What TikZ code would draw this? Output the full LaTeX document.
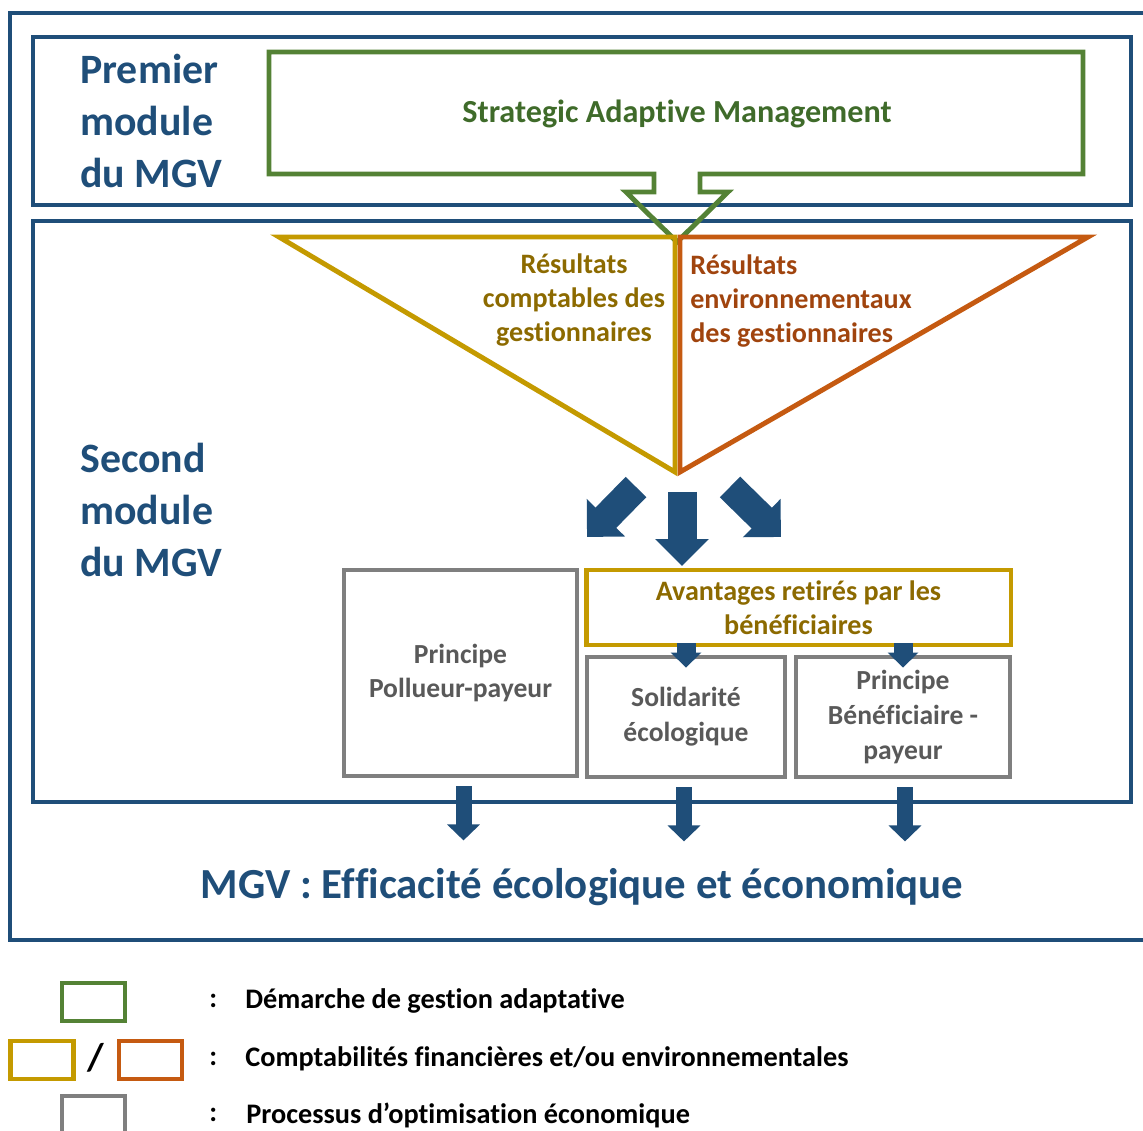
\documentclass[tikz,border=0pt]{standalone}
\usepackage{fontspec}
\setmainfont{Carlito}[RawFeature=-liga]
\usepackage{tikz}
\usetikzlibrary{arrows.meta,positioning}
\definecolor{mgvblue}{HTML}{1F4E79}
\definecolor{samgreen}{HTML}{548235}
\definecolor{samtext}{HTML}{3F6B2A}
\definecolor{compta}{HTML}{C49A00}
\definecolor{comptatext}{HTML}{8C6A00}
\definecolor{envir}{HTML}{C55A11}
\definecolor{envirtext}{HTML}{A0440E}
\definecolor{optigray}{HTML}{7F7F7F}
\definecolor{optitext}{HTML}{595959}
\tikzstyle{module} = [draw=mgvblue, line width=2.8pt]
\tikzstyle{modtext} = [inner sep=0pt, anchor=west, align=left, text=mgvblue,
    font=\fontsize{23.8}{29.5}\selectfont\bfseries]
\tikzstyle{graybox} = [rectangle, draw=optigray, line width=2.8pt, text=optitext,
    align=center, font=\fontsize{15.7}{19.8}\selectfont\bfseries]
\tikzstyle{legbox} = [rectangle, line width=2.8pt, minimum width=1.26cm, minimum height=0.76cm]
\tikzstyle{legtext} = [inner sep=0pt, anchor=west, font=\fontsize{16.1}{19}\selectfont\bfseries]
\tikzstyle{bigarrow} = [draw=mgvblue, line width=0.58cm, -{Triangle[length=0.54cm,width=1.04cm]}]
\tikzstyle{smallarrow} = [draw=mgvblue, line width=0.38cm, -{Triangle[length=0.3cm,width=0.6cm]}]
\tikzstyle{downarrow} = [draw=mgvblue, line width=0.32cm, -{Triangle[length=0.32cm,width=0.64cm]}]

\begin{document}
\begin{tikzpicture}[x=0.02cm, y=-0.02cm, line join=miter]
    \useasboundingbox (0,0) rectangle (1143,1131);
    % Frames
    \draw [draw=mgvblue, line width=2.3pt] (10,13) rectangle (1170,940);
    \draw [module] (33,37) rectangle (1131,205);
    \draw [module] (33,221) rectangle (1131,802);
    \node [modtext] (premier) at (80,121) {Premier\\module\\du MGV};
    \node [modtext] (second) at (80,510) {Second\\module\\du MGV};
    % Strategic Adaptive Management
    \draw [draw=samgreen, line width=2.8pt] (654,174) -- (269,174) -- (269,52) -- (1083,52)
        -- (1083,174) -- (700,174) -- (700,192) -- (728,192) -- (677,242) -- (626,192)
        -- (654,192) -- cycle;
    \node [text=samtext, font=\fontsize{18.3}{22}\selectfont\bfseries] (sam) at (677,114)
        {Strategic Adaptive Management};
    % Results
    \draw [draw=envir, line width=2.8pt] (680,237) -- (1088,237) -- (680,472) -- cycle;
    \draw [draw=compta, line width=2.8pt] (675,237) -- (279,237) -- (675,472) -- cycle;
    \coordinate (fork) at (677,472);
    \node [text=comptatext, align=center, inner sep=0pt,
        font=\fontsize{16}{19.3}\selectfont\bfseries] (compta) at (574,300)
        {Résultats\\comptables des\\gestionnaires};
    \node [text=envirtext, align=left, inner sep=0pt, anchor=west,
        font=\fontsize{16}{19.3}\selectfont\bfseries] (envir) at (690,301)
        {Résultats\\environnementaux\\des gestionnaires};
    % Place nodes
    \node [graybox, minimum width=4.66cm, minimum height=4.12cm] (pollueur) at (460.5,673)
        {Principe\\Pollueur-payeur};
    \node [rectangle, draw=compta, line width=2.8pt, minimum width=8.5cm, minimum height=1.5cm,
        text=comptatext, align=center, font=\fontsize{16}{19.3}\selectfont\bfseries]
        (avantages) at (798.5,607.5) {Avantages retirés par les\\bénéficiaires};
    \node [graybox, minimum width=3.96cm, minimum height=2.4cm] (solidarite) at (686,717)
        {Solidarité\\écologique};
    \node [graybox, minimum width=4.28cm, minimum height=2.4cm] (beneficiaire) at (903,717)
        {Principe\\Bénéficiaire -\\payeur};
    \node [text=mgvblue, font=\fontsize{24.4}{28}\selectfont\bfseries] (mgv) at (582,887)
        {MGV : Efficacité écologique et économique};
    % Draw edges
    \path [bigarrow] ([shift={(-41,15)}]fork) -- ([shift={(-90,65)}]fork);
    \path [bigarrow] ([shift={(5,20)}]fork) -- ([shift={(5,94)}]fork);
    \path [bigarrow] ([shift={(53,15)}]fork) -- ([shift={(104,65)}]fork);
    \path [smallarrow] ([yshift=0.08cm]avantages.south -| solidarite.north) -- ([yshift=-0.26cm]solidarite.north);
    \path [smallarrow] ([yshift=0.08cm]avantages.south -| beneficiaire.north) -- ([yshift=-0.26cm]beneficiaire.north);
    \path [downarrow] ([shift={(3,8)}]pollueur.south) -- ++(0,54);
    \path [downarrow] ([shift={(-2,8)}]solidarite.south) -- ++(0,54);
    \path [downarrow] ([shift={(2,8)}]beneficiaire.south) -- ++(0,54);
    % Legend
    \node [legbox, draw=samgreen] (lgreen) at (93.5,1002) {};
    \node [legbox, draw=compta] (lcompta) at (42,1060) {};
    \node [font=\fontsize{22}{24}\selectfont\bfseries] (lslash) at (96,1058) {/};
    \node [legbox, draw=envir] (lenvir) at (150.5,1060) {};
    \node [legbox, draw=optigray] (lgray) at (93.5,1115) {};
    \node [legtext] (ttgreen) at (209,1001) {:};
    \node [legtext] (ttcompta) at (209,1059) {:};
    \node [legtext] (ttgray) at (209,1115) {:};
    \node [legtext] (tgreen) at (245,1001) {Démarche de gestion adaptative};
    \node [legtext] (tcompta) at (245,1059) {Comptabilités financières et/ou environnementales};
    \node [legtext] (tgray) at (246,1115) {Processus d’optimisation économique};
\end{tikzpicture}
\end{document}
